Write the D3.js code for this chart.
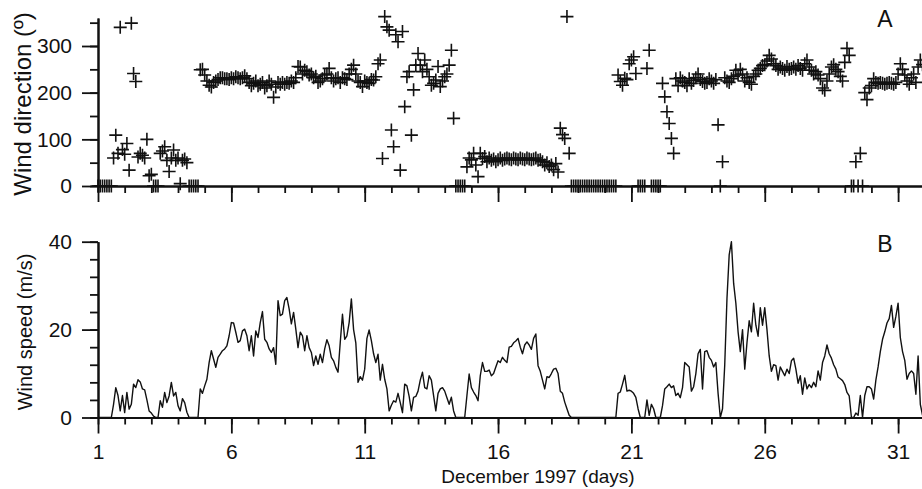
<!DOCTYPE html>
<html>
<head>
<meta charset="utf-8">
<script src="https://cdn.jsdelivr.net/npm/d3@7"></script>
<style>
body{margin:0;background:#fff}
text{font-family:"Liberation Sans",Arial,Helvetica,sans-serif;fill:#111}
</style>
</head>
<body>
<script>
// December 1997, samples every 2 hours starting Dec 1 00:00 (12 per day)
var startDay = 1
var perDay = 12

// wind direction (deg), 0 when calm
var windDir = [
  0,0,0,0,0,0,0,60,109,70,340,78,                       // 1
  68,91,34,349,241,224,62,70,66,60,100,22,              // 2
  25,0,0,0,70,75,84,55,31,60,77,55,                     // 3
  60,5,55,58,50,0,0,0,0,0,249,250,                      // 4
  238,225,216,212,222,225,228,232,232,230,230,228,      // 5
  232,230,234,232,230,232,236,230,222,215,220,225,      // 6
  215,218,222,210,215,225,218,190,212,222,218,222,      // 7
  218,222,220,225,222,232,256,255,240,248,245,238,      // 8
  240,232,235,222,225,230,238,240,252,232,225,230,      // 9
  232,222,232,230,228,240,250,259,240,225,222,213,      // 10
  225,222,220,228,227,234,262,270,59,363,341,334,       // 11
  120,84,324,309,34,331,170,234,245,109,206,259,        // 12
  284,259,245,270,250,234,216,220,227,256,213,225,      // 13
  234,240,259,291,145,0,0,0,0,0,41,60,                  // 14
  56,70,45,20,70,59,63,52,60,55,58,52,                  // 15
  56,60,55,58,60,58,56,60,58,56,60,58,                  // 16
  56,60,58,56,58,60,55,56,52,45,50,42,                  // 17
  45,35,48,30,124,110,102,363,70,0,0,0,                 // 18
  0,0,0,0,0,0,0,0,0,0,0,0,                              // 19
  0,0,0,0,0,0,238,224,216,231,228,262,                  // 20
  270,277,241,0,0,0,0,252,291,0,0,0,                    // 21
  0,0,220,191,159,134,102,70,230,215,232,225,           // 22
  222,215,230,220,226,232,240,228,224,220,222,230,      // 23
  225,220,228,131,0,52,232,225,222,230,235,248,         // 24
  238,250,240,225,232,222,218,235,240,248,252,258,      // 25
  260,268,280,272,262,258,250,255,252,248,256,250,      // 26
  252,255,250,258,252,248,262,270,255,248,240,245,      // 27
  238,230,210,205,225,240,255,260,250,245,235,225,      // 28
  265,295,280,0,0,52,0,70,0,200,185,210,                // 29
  215,230,222,220,222,220,218,220,222,220,218,222,      // 30
  240,262,250,238,225,218,232,240,222,255,270,260       // 31
]

// wind speed (m/s)
var windSpeed = [
  0,0,0,0,0,0,0,3,6.8,5,1.5,5,
  1.1,5.7,1.9,3,7.6,6.8,8.6,8.1,6.5,6.3,4,1.5,
  1,0.3,0,0,3.8,2.3,5.7,3.4,4.9,8,4.9,5.7,
  2.7,1.5,4.3,3.4,1.2,0,0,0,0,0,6.5,5.5,
  7.2,8.7,12.5,15.2,13.3,11.4,13.7,14.4,15.2,15.6,16.3,18.6,
  21.6,21.5,19.4,17.1,17.5,19.7,20.1,18.6,15.2,18.6,14,19.7,
  18.2,21.6,24.1,17.8,17.1,15.6,14.8,15.9,12.1,26.6,23.2,23.5,
  26.6,27.3,24.7,21.3,23.9,20.1,15.9,19.4,18.6,15.2,18.6,15.9,
  14.8,11.8,14,12.1,14.4,12.5,15.6,17.7,16.3,13.7,12.9,11.4,
  10.3,17.1,23.5,17.8,18.6,21.6,27,20,17,8,9.3,8.5,
  11,18,19.9,17.5,14.5,12.5,14.4,8.5,12.1,8.7,6.5,1.5,
  2.8,3.8,3.5,5.5,3.4,1.1,7.6,7.2,4.8,1.5,4.6,4.8,
  6,8.5,10.3,6.8,6.5,9.5,8.5,5,1.5,5.5,6.5,6.8,
  6,4.5,3,4.6,1.5,0,0,0,0,0,5,9.9,
  6.8,5.8,5,3.8,9.5,12.5,10.5,10.5,10.8,9.5,10,11.5,
  12.9,12.5,13.7,13,12.5,16,16.2,17,17.4,18,16,14.5,
  16.5,17.2,16.5,15.5,18,19,11.8,10.5,8.5,6.5,9.3,9.1,
  10,11,11.2,10,6,5.5,3.5,2,0.5,0,0,0,
  0,0,0,0,0,0,0,0,0,0,0,0,
  0,0,0,0,0,0,5.5,5.8,7.6,9.6,6,6.2,
  6,5.5,4.6,2,0,0,0,4,0.5,3,2,0,
  0,0,2.7,6.5,7,7.6,6.8,7.2,5,5.5,4.5,6.8,
  12.5,12,11.5,6,7,10,14.5,15.5,6.5,15,15.2,13.7,
  13,11.5,12.5,5.5,0,2,12,27,37,40,30.5,26,
  19.5,15,20,11,17,22,19.5,26,21,18.5,25,21,
  25,20,14,10.5,12,11.8,8.5,11.5,10.5,9.5,11,10,
  12.9,13.5,11,7.8,9.5,5.3,9,6.5,7.5,6.8,8,7,
  10.6,8.5,12.5,14,16.5,14.5,13.5,12,11,9.2,8.8,8.4,
  7.5,5.7,4.9,0,0,1,0.5,5,0,5,7,7,
  6.5,4.2,8.5,11.5,15,17.8,19.5,21.5,22.5,25.5,20.5,23,
  26,18.2,15,13,8.7,10,10.6,10,5.3,14,3,0.5
]

var dayTicks = [1,6,11,16,21,26,31]
var dirTicks = [0,100,200,300]
var speedTicks = [0,20,40]

var W = 922, H = 489
var svg = d3.select("body").append("svg").attr("width", W).attr("height", H)

var x = d3.scaleLinear().domain([1,32]).range([98, 98+31*26.67])
var yDir = d3.scaleLinear().domain([0,360]).range([186, 18])
var ySpd = d3.scaleLinear().domain([0,40]).range([417.5, 241.7])

var t = function(i){return startDay + i/perDay}

var styleAxis = function(g){
  g.selectAll("path").attr("stroke","#111").attr("stroke-width",2)
  g.selectAll("line").attr("stroke","#111").attr("stroke-width",1.8)
  g.selectAll("text").attr("font-size",21).attr("fill","#111")
    .style("font-family",'"Liberation Sans",Arial,sans-serif')
}

// ---- panel A ----
var minorDays = d3.range(1,33)
svg.append("g").attr("transform","translate(0,186)")
   .call(d3.axisBottom(x).tickValues(minorDays).tickSize(7).tickSizeOuter(0).tickFormat(""))
   .call(styleAxis)
svg.append("g").attr("transform","translate(0,186)")
   .call(d3.axisBottom(x).tickValues(dayTicks).tickSize(16).tickSizeOuter(0).tickFormat(""))
   .call(styleAxis)
svg.append("g").attr("transform","translate(98,0)")
   .call(d3.axisLeft(yDir).tickValues(d3.range(0,360,50)).tickSize(8).tickSizeOuter(0).tickFormat(""))
   .call(styleAxis)
svg.append("g").attr("transform","translate(98,0)")
   .call(d3.axisLeft(yDir).tickValues(dirTicks).tickSize(16).tickSizeOuter(0).tickPadding(10))
   .call(styleAxis)

svg.append("g").selectAll("path")
   .data(windDir)
   .enter()
   .append("path")
   .attr("transform",function(d,i){return "translate("+x(t(i))+","+yDir(d)+")"})
   .attr("d","M-6.5,0H6.5M0,-6.5V6.5")
   .attr("stroke","#111")
   .attr("stroke-width",1.6)
   .attr("fill","none")

// ---- panel B ----
svg.append("g").attr("transform","translate(0,417.5)")
   .call(d3.axisBottom(x).tickValues(minorDays).tickSize(7).tickSizeOuter(0).tickFormat(""))
   .call(styleAxis)
svg.append("g").attr("transform","translate(0,417.5)")
   .call(d3.axisBottom(x).tickValues(dayTicks).tickSize(16).tickSizeOuter(0).tickPadding(11).tickFormat(d3.format("d")))
   .call(styleAxis)
svg.append("g").attr("transform","translate(98,0)")
   .call(d3.axisLeft(ySpd).tickValues(d3.range(0,41,4)).tickSize(8).tickSizeOuter(0).tickFormat(""))
   .call(styleAxis)
svg.append("g").attr("transform","translate(98,0)")
   .call(d3.axisLeft(ySpd).tickValues(speedTicks).tickSize(16).tickSizeOuter(0).tickPadding(10))
   .call(styleAxis)

var line = d3.line()
   .x(function(d,i){return x(t(i))})
   .y(function(d){return ySpd(d)})
svg.append("path")
   .datum(windSpeed)
   .attr("d", line)
   .attr("fill","none")
   .attr("stroke","#111")
   .attr("stroke-width",1.4)
   .attr("stroke-linejoin","round")

// ---- labels ----
svg.append("text").attr("transform","translate(31,104) rotate(-90)")
   .attr("text-anchor","middle").attr("font-size",24).text("Wind direction (º)")
svg.append("text").attr("transform","translate(32,332) rotate(-90)")
   .attr("text-anchor","middle").attr("font-size",20).text("Wind speed (m/s)")
svg.append("text").attr("x",538).attr("y",483)
   .attr("text-anchor","middle").attr("font-size",19).text("December 1997 (days)")
svg.append("text").attr("x",885).attr("y",27)
   .attr("text-anchor","middle").attr("font-size",23).text("A")
svg.append("text").attr("x",885).attr("y",252)
   .attr("text-anchor","middle").attr("font-size",23).text("B")
</script>
</body>
</html>
